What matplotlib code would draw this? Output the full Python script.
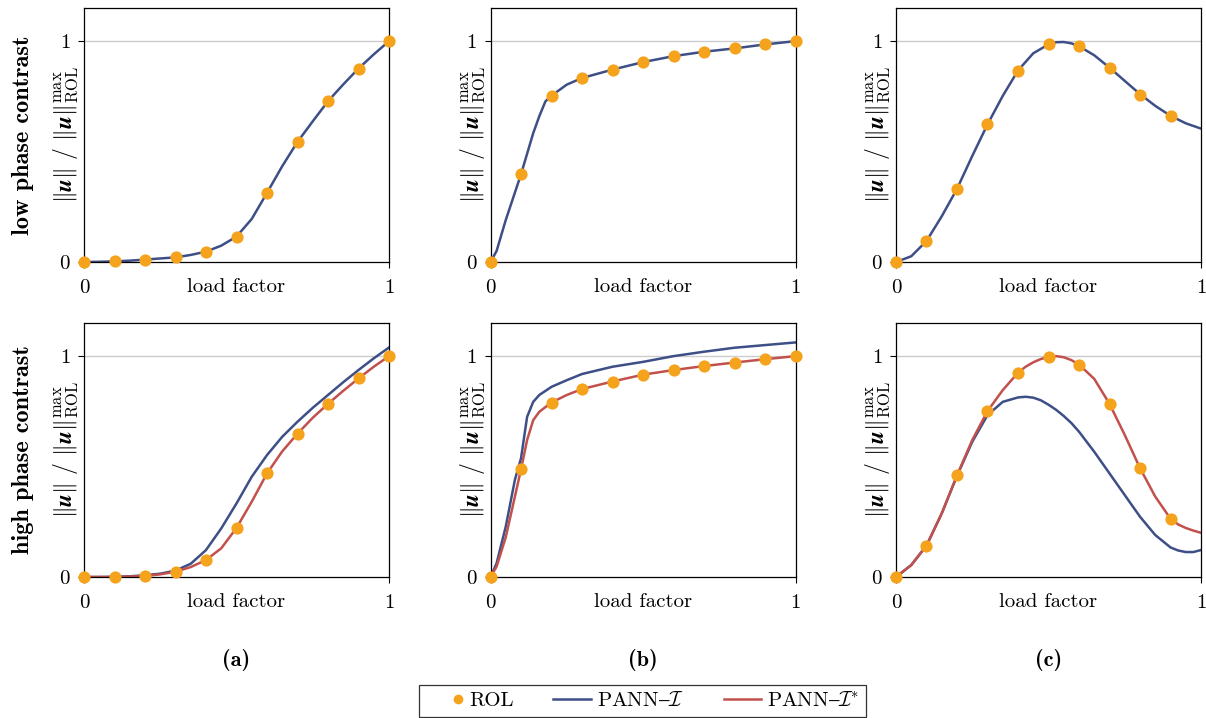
import numpy as np
import matplotlib
matplotlib.use("Agg")
import matplotlib.pyplot as plt
from matplotlib.lines import Line2D
from matplotlib.legend_handler import HandlerLine2D

plt.rcParams['font.family'] = ['cmr10', 'DejaVu Serif']
plt.rcParams['mathtext.fontset'] = 'cm'
plt.rcParams['axes.unicode_minus'] = False
plt.rcParams['axes.formatter.use_mathtext'] = True

C_ROL = '#F5A31C'
C_PANN = '#3D4F86'
C_STAR = '#C2504D'

# ROL reference points (markers)
rol_x = [0.0, 0.1, 0.2, 0.3, 0.4, 0.5, 0.6, 0.7, 0.8, 0.9, 1.0]
rol_x_c = [0.0, 0.1, 0.2, 0.3, 0.4, 0.5, 0.6, 0.7, 0.8, 0.9]

rol_low_a = [0.0, 0.003, 0.011, 0.021, 0.047, 0.115, 0.313, 0.544, 0.728, 0.876, 1.0]
rol_low_b = [0.0, 0.397, 0.753, 0.833, 0.871, 0.905, 0.932, 0.952, 0.967, 0.985, 1.0]
rol_low_c = [0.0, 0.095, 0.331, 0.623, 0.867, 0.989, 0.977, 0.877, 0.758, 0.660]
rol_high_a = [0.0, 0.0, 0.005, 0.024, 0.077, 0.222, 0.469, 0.649, 0.784, 0.899, 1.0]
rol_high_b = [0.0, 0.487, 0.790, 0.851, 0.885, 0.916, 0.937, 0.955, 0.971, 0.986, 1.0]
rol_high_c = [0.0, 0.142, 0.460, 0.751, 0.925, 0.997, 0.962, 0.784, 0.493, 0.264]

# PANN curves
grid20 = [0.0, 0.05, 0.1, 0.15, 0.2, 0.25, 0.3, 0.35, 0.4, 0.45, 0.5,
          0.55, 0.6, 0.65, 0.7, 0.75, 0.8, 0.85, 0.9, 0.95, 1.0]

pann_low_a = [0.0, 0.001, 0.003, 0.006, 0.011, 0.016, 0.021, 0.032, 0.047, 0.074, 0.115,
              0.195, 0.313, 0.434, 0.544, 0.637, 0.728, 0.804, 0.876, 0.940, 1.0]

x_low_b = [0.0, 0.02, 0.05, 0.1, 0.12, 0.14, 0.16, 0.18, 0.2, 0.25, 0.3,
           0.4, 0.5, 0.6, 0.7, 0.8, 0.9, 1.0]
pann_low_b = [0.0, 0.05, 0.19, 0.397, 0.49, 0.583, 0.66, 0.727, 0.753, 0.803, 0.833,
              0.871, 0.905, 0.932, 0.952, 0.967, 0.985, 1.0]

x_low_c = [0.0, 0.05, 0.1, 0.15, 0.2, 0.25, 0.3, 0.35, 0.4, 0.45, 0.5, 0.525,
           0.55, 0.575, 0.6, 0.65, 0.7, 0.75, 0.8, 0.85, 0.9, 0.95, 1.0]
pann_low_c = [0.0, 0.026, 0.095, 0.207, 0.331, 0.480, 0.623, 0.752, 0.867, 0.945, 0.985, 0.995,
              0.996, 0.990, 0.977, 0.936, 0.880, 0.820, 0.760, 0.707, 0.662, 0.628, 0.604]

pann_high_a = [0.0, 0.0, 0.001, 0.003, 0.008, 0.015, 0.029, 0.060, 0.122, 0.220, 0.333,
               0.454, 0.552, 0.635, 0.703, 0.766, 0.824, 0.882, 0.937, 0.990, 1.039]
star_high_a = [0.0, 0.0, 0.0, 0.002, 0.005, 0.012, 0.024, 0.045, 0.077, 0.130, 0.222,
               0.341, 0.469, 0.569, 0.649, 0.721, 0.784, 0.843, 0.899, 0.952, 1.0]

x_high_b_pann = [0.0, 0.02, 0.05, 0.08, 0.1, 0.12, 0.14, 0.16, 0.2, 0.25, 0.3,
                 0.4, 0.5, 0.6, 0.7, 0.8, 0.9, 1.0]
pann_high_b = [0.0, 0.062, 0.228, 0.44, 0.537, 0.725, 0.793, 0.824, 0.861, 0.891, 0.919,
               0.952, 0.974, 1.0, 1.02, 1.038, 1.05, 1.062]
x_high_b_star = [0.0, 0.02, 0.05, 0.1, 0.12, 0.14, 0.16, 0.2, 0.25, 0.3,
                 0.4, 0.5, 0.6, 0.7, 0.8, 0.9, 1.0]
star_high_b = [0.0, 0.047, 0.18, 0.487, 0.62, 0.71, 0.748, 0.79, 0.824, 0.851,
               0.885, 0.916, 0.937, 0.955, 0.971, 0.986, 1.0]

x_high_c = [0.0, 0.05, 0.1, 0.15, 0.2, 0.25, 0.3, 0.35, 0.4, 0.425, 0.45, 0.475, 0.5,
            0.525, 0.55, 0.575, 0.6, 0.65, 0.7, 0.75, 0.8, 0.85, 0.9, 0.925, 0.95, 0.975, 1.0]
pann_high_c = [0.0, 0.054, 0.142, 0.288, 0.458, 0.612, 0.733, 0.793, 0.813, 0.816, 0.812, 0.800, 0.780,
               0.757, 0.729, 0.697, 0.658, 0.567, 0.469, 0.371, 0.273, 0.190, 0.134, 0.120, 0.113, 0.113, 0.122]
star_high_c = [0.0, 0.054, 0.142, 0.288, 0.460, 0.620, 0.751, 0.846, 0.925, 0.952, 0.972, 0.987, 0.996,
               1.0, 0.995, 0.982, 0.962, 0.897, 0.784, 0.643, 0.493, 0.364, 0.264, 0.238, 0.222, 0.210, 0.200]

row_labels = ['low phase contrast', 'high phase contrast']
col_labels = ['(a)', '(b)', '(c)']
ylab = r'$\|\boldsymbol{u}\|\ /\ \|\boldsymbol{u}\|_{\mathrm{ROL}}^{\max}$'

W, H = 1206, 718
fig = plt.figure(figsize=(W / 100, H / 100), dpi=100)

col_left = [84, 490.5, 896]
row_top = [8, 323]
ax_w, ax_h = 305, 254

panels = [
    # row, col, rol x, rol y, [(x, y, colour), ...]
    (0, 0, rol_x, rol_low_a, [(grid20, pann_low_a, C_PANN)]),
    (0, 1, rol_x, rol_low_b, [(x_low_b, pann_low_b, C_PANN)]),
    (0, 2, rol_x_c, rol_low_c, [(x_low_c, pann_low_c, C_PANN)]),
    (1, 0, rol_x, rol_high_a, [(grid20, pann_high_a, C_PANN), (grid20, star_high_a, C_STAR)]),
    (1, 1, rol_x, rol_high_b, [(x_high_b_pann, pann_high_b, C_PANN), (x_high_b_star, star_high_b, C_STAR)]),
    (1, 2, rol_x_c, rol_high_c, [(x_high_c, pann_high_c, C_PANN), (x_high_c, star_high_c, C_STAR)]),
]

for r, c, rx, ry, curves in panels:
    left = col_left[c] / W
    bottom = (H - row_top[r] - ax_h) / H
    ax = fig.add_axes([left, bottom, ax_w / W, ax_h / H])
    ax.axhline(1.0, color='#cccccc', lw=1.0, zorder=0)
    for cx, cy, col in curves:
        ax.plot(cx, cy, color=col, lw=1.8, zorder=2, solid_joinstyle='round')
    ax.plot(rx, ry, 'o', color=C_ROL, ms=8.8, mec='none', zorder=3, clip_on=False)
    ax.set_xlim(0, 1)
    ax.set_ylim(0, 1.15)
    ax.set_xticks([0, 1])
    ax.set_yticks([0, 1])
    ax.set_xticklabels(['0', '1'])
    ax.set_yticklabels(['0', '1'])
    ax.tick_params(direction='out', length=4, width=0.8, labelsize=15)
    ax.tick_params(axis='x', pad=8)
    ax.tick_params(axis='y', pad=6)
    for s in ax.spines.values():
        s.set_linewidth(0.9)
    ax.set_xlabel('load factor', fontsize=15)
    ax.xaxis.set_label_coords(0.5, -0.062)
    ax.xaxis.label.set_va('top')
    ax.set_ylabel(ylab, fontsize=17)
    ax.yaxis.set_label_coords(-0.013, 0.5)

for r, lab in enumerate(row_labels):
    yc = 1 - (row_top[r] + ax_h / 2) / H
    fig.text(23 / W, yc, lab, rotation=90, ha='center', va='center',
             fontsize=17.5, family=['cmb10', 'DejaVu Serif'])

for c, lab in enumerate(col_labels):
    fig.text((col_left[c] + ax_w / 2) / W, 1 - 660 / H, lab, ha='center', va='center',
             fontsize=16, family=['cmb10', 'DejaVu Serif'])


class MarkerLeft(HandlerLine2D):
    # put the ROL dot at the left of its handle box, like the pgfplots legend
    def create_artists(self, legend, orig_handle, xdescent, ydescent, width, height, fontsize, trans):
        arts = super().create_artists(legend, orig_handle, xdescent, ydescent,
                                      width, height, fontsize, trans)
        for a in arts:
            a.set_xdata([width - 4])
        return arts


handles = [
    Line2D([], [], marker='o', ls='none', color=C_ROL, ms=7, mec='none'),
    Line2D([], [], color=C_PANN, lw=1.8),
    Line2D([], [], color=C_STAR, lw=1.8),
]
labels = ['ROL', r'PANN$–\mathcal{I}$', r'PANN$–\mathcal{I}^{*}$']
leg = fig.legend(handles, labels, loc='upper center', bbox_to_anchor=(642.5 / W, 1 - 685 / H),
                 ncol=3, frameon=True, fancybox=False, fontsize=15, handlelength=1.8,
                 handletextpad=0.3, columnspacing=1.9, borderpad=0.3, borderaxespad=0,
                 handler_map={handles[0]: MarkerLeft()})
leg.get_frame().set_edgecolor('black')
leg.get_frame().set_linewidth(0.9)

fig.savefig('out.png', dpi=100)
